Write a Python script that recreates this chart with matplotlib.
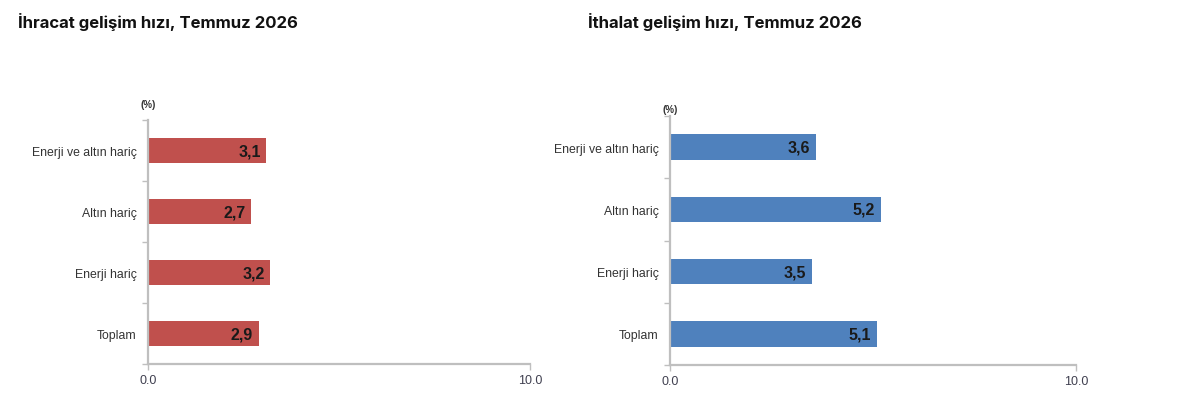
import matplotlib
matplotlib.use("Agg")
import matplotlib.pyplot as plt
import numpy as np

categories = ["Toplam", "Enerji hariç", "Altın hariç", "Enerji ve altın hariç"]
ihracat = [2.9, 3.2, 2.7, 3.1]
ithalat = [5.1, 3.5, 5.2, 3.6]
ihracat_title = "İhracat gelişim hızı, Temmuz 2026"
ithalat_title = "İthalat gelişim hızı, Temmuz 2026"
x_ticks = [0, 10]
x_tick_labels = ["0.0", "10.0"]

plt.rcParams['font.family'] = ['Liberation Sans', 'DejaVu Sans']

fig = plt.figure(figsize=(12, 4.02), dpi=100)
fig.patch.set_facecolor("white")

axis_grey = "#BFBFBF"


def draw_panel(rect, values, color, pct_y):
    ax = fig.add_axes(rect)
    y = np.arange(len(categories))
    ax.barh(y, values, height=0.41, color=color, edgecolor="none")
    ax.set_xlim(0, 10)
    ax.set_ylim(-0.5, len(categories) - 0.5)
    for s in ["top", "right"]:
        ax.spines[s].set_visible(False)
    for s in ["left", "bottom"]:
        ax.spines[s].set_color(axis_grey)
        ax.spines[s].set_linewidth(1.6)
    # small ticks between the categories
    ax.set_yticks(np.arange(-0.5, len(categories), 1.0))
    ax.set_yticklabels([])
    ax.tick_params(axis="y", length=4, color=axis_grey, width=1)
    ax.set_yticks(y, minor=True)
    ax.set_yticklabels(categories, minor=True, fontsize=8.8, color="#333333")
    ax.tick_params(axis="y", which="minor", length=0, pad=8)
    ax.set_xticks(x_ticks)
    ax.set_xticklabels(x_tick_labels, fontsize=9, color="#404050")
    ax.tick_params(axis="x", length=4, color=axis_grey, width=1, pad=3)
    for yi, v in zip(y, values):
        ax.text(v - 0.15, yi, f"{v:.1f}".replace(".", ","), ha="right", va="center",
                fontsize=11.5, fontweight="bold", color="#1a1a1a")
    ax.text(0, pct_y, "(%)", transform=ax.get_xaxis_transform(),
            fontsize=7, fontweight="bold", color="#333333", ha="center", va="center")
    return ax


ax1 = draw_panel([0.1233, 0.092, 0.3183, 0.607], ihracat, "#C0504D", 1.065)
ax2 = draw_panel([0.5583, 0.0896, 0.3383, 0.619], ithalat, "#4F81BD", 1.03)

fig.text(0.015, 0.946, ihracat_title, fontsize=12, fontweight="bold",
         color="#111111", va="center", ha="left", family=["Inter", "DejaVu Sans"])
fig.text(0.49, 0.946, ithalat_title, fontsize=12, fontweight="bold",
         color="#111111", va="center", ha="left", family=["Inter", "DejaVu Sans"])

fig.savefig("out.png", dpi=100)
